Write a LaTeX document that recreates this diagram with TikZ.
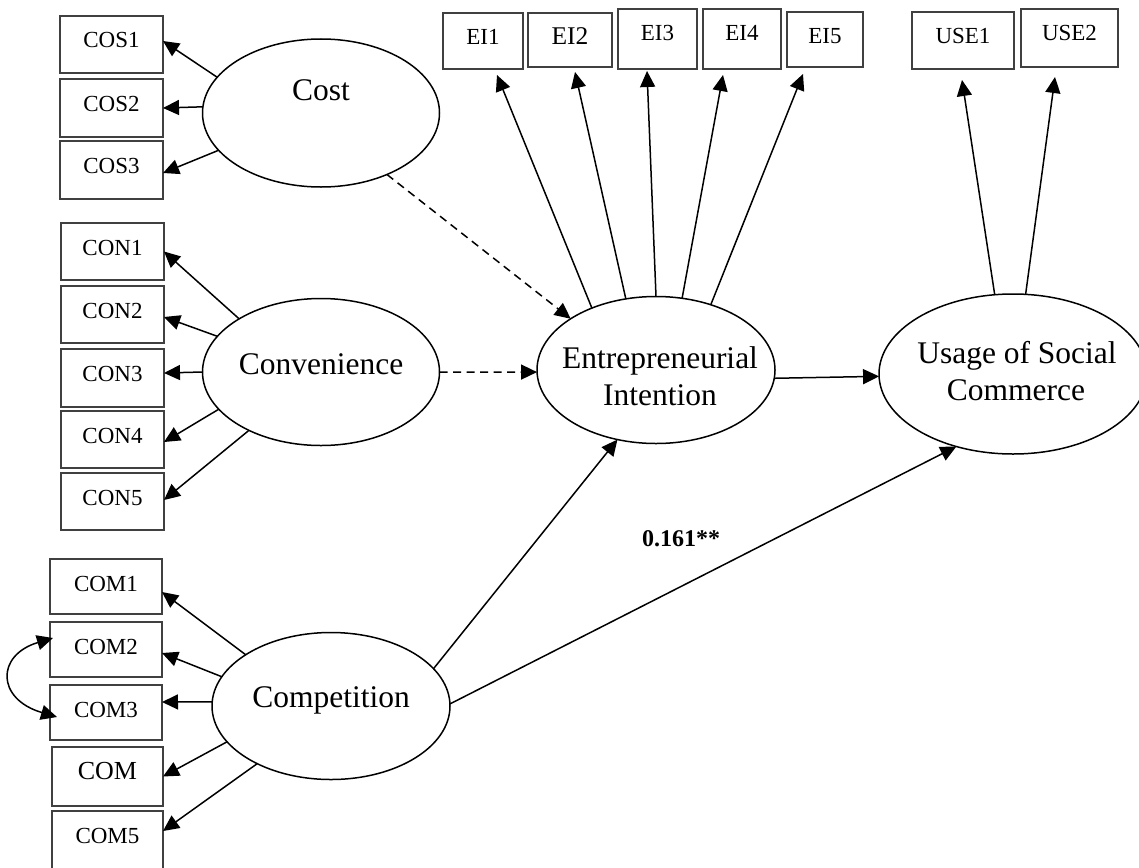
\documentclass[tikz,border=0pt]{standalone}
\usepackage{fontspec}
\setmainfont{Liberation Serif}
\usetikzlibrary{arrows.meta,shapes.geometric}

% zero-size label: #1 = twice the horizontal offset, #2 = baseline raise, #3 = text
\newcommand{\lbl}[3]{\raisebox{#2}[0pt][0pt]{\makebox[0pt]{\hspace*{#1}#3}}}

% indicator box: name, left, top, right, bottom, text
\newcommand{\indbox}[6]{%
  \pgfmathsetmacro\indW{#4-#2}%
  \pgfmathsetmacro\indH{#5-#3}%
  \pgfmathsetmacro\indD{#5-#3-32}%
  \node[ind, anchor=north west, minimum width=\indW pt, minimum height=\indH pt,
        text depth=\indD pt] (#1) at (#2,#3) {#6};}

\begin{document}
\begin{tikzpicture}[x=1pt,y=-1pt,
  ind/.style={draw=black!75, line width=1.2pt, rectangle, inner sep=0pt, outer sep=0pt,
              text height=32pt, font=\fontsize{23}{27}\selectfont},
  lat/.style={draw, line width=1.5pt, ellipse, inner sep=0pt, outer sep=0pt,
              font=\fontsize{31.5}{36}\selectfont},
  tip/.tip={Triangle[length=16pt,width=15pt]},
  arr/.style={line width=1.5pt, -tip},
  darr/.style={arr, dash pattern=on 8pt off 5.5pt},
  barr/.style={line width=1.5pt, tip-tip}]

\useasboundingbox (0,0) rectangle (1139,867);

% latent constructs
\node[lat, minimum width=237pt, minimum height=148pt] (cost) at (321,113) {\lbl{0pt}{13pt}{Cost}};
\node[lat, minimum width=237pt, minimum height=147pt] (conv) at (321,372) {\lbl{0pt}{-2pt}{Convenience}};
\node[lat, minimum width=238pt, minimum height=147pt] (comp) at (331,706) {\lbl{0pt}{-1pt}{Competition}};
\node[lat, minimum width=238pt, minimum height=147pt] (ei) at (656,370)
  {\lbl{8pt}{2pt}{Entrepreneurial}\lbl{8pt}{-35pt}{Intention}};
\node[lat, minimum width=268pt, minimum height=160pt] (use) at (1013,374)
  {\lbl{8pt}{11pt}{Usage of Social}\lbl{6pt}{-26pt}{Commerce}};

% indicators
\indbox{cos1}{60}{16}{163}{73}{COS1}
\indbox{cos2}{60}{79}{163}{137}{COS2}
\indbox{cos3}{60}{141}{163}{199}{COS3}
\indbox{con1}{61}{223}{164}{280}{CON1}
\indbox{con2}{61}{286}{164}{343}{CON2}
\indbox{con3}{61}{349}{164}{407}{CON3}
\indbox{con4}{61}{411}{164}{468}{CON4}
\indbox{con5}{61}{473}{164}{530}{CON5}
\indbox{com1}{50}{559}{162}{614}{COM1}
\indbox{com2}{50}{622}{162}{677}{COM2}
\indbox{com3}{50}{685}{162}{740}{COM3}
\indbox{com4}{52}{747}{163}{806}{\fontsize{26}{28}\selectfont COM}
\indbox{com5}{52}{811}{163}{870}{COM5}
\indbox{ei1}{443}{13}{523}{69}{EI1}
\indbox{ei2}{528}{13}{612}{67}{\fontsize{25.5}{28}\selectfont EI2}
\indbox{ei3}{618}{9}{697}{69}{EI3}
\indbox{ei4}{703}{9}{781}{69}{EI4}
\indbox{ei5}{787}{12}{863}{67}{EI5}
\indbox{use1}{912}{12}{1014}{69}{USE1}
\indbox{use2}{1021}{9}{1118}{67}{USE2}

% loadings
\draw[arr] (cost.161.6) -- ([yshift=3.5pt]cos1.east);
\draw[arr] (cost.177.6) -- (cos2.east);
\draw[arr] (cost.200.1) -- ([yshift=-3pt]cos3.east);

\draw[arr] (conv.147.7) -- (con1.east);
\draw[arr] (conv.161.7) -- ([yshift=-2.5pt]con2.east);
\draw[arr] (conv.180) -- ([yshift=5pt]con3.east);
\draw[arr] (conv.200.7) -- ([yshift=-2.5pt]con4.east);
\draw[arr] (conv.219.3) -- ([yshift=1.5pt]con5.east);

\draw[arr] (comp.149.9) -- ([yshift=-5.5pt]com1.east);
\draw[arr] (comp.165.1) -- ([yshift=-3.5pt]com2.east);
\draw[arr] (comp.178.1) -- ([yshift=10.5pt]com3.east);
\draw[arr] (comp.199.2) -- (com4.east);
\draw[arr] (comp.218.5) -- ([yshift=9.5pt]com5.east);

\draw[arr] (ei.136.3) -- ([xshift=14pt,yshift=-6pt]ei1.south);
\draw[arr] (ei.113.2) -- ([xshift=5pt,yshift=-5pt]ei2.south);
\draw[arr] (ei.90) -- ([xshift=-10.5pt,yshift=-2pt]ei3.south);
\draw[arr] (ei.70.9) -- ([xshift=-19pt,yshift=-6pt]ei4.south);
\draw[arr] (ei.50.6) -- ([xshift=-22pt,yshift=-7pt]ei5.south);

\draw[arr] (use.103.9) -- ([xshift=-1pt,yshift=-11pt]use1.south);
\draw[arr] (use.81.1) -- ([xshift=-14.5pt,yshift=-10pt]use2.south);

% error covariance
\draw[barr] ([xshift=3pt,yshift=11.5pt]com2.west) .. controls +(-57,17) and +(-61,-18) .. ([xshift=7pt,yshift=-4.5pt]com3.west);

% structural paths
\draw[darr] (cost.317.7) -- (ei.149.7);
\draw[darr] (conv.0) -- (ei.181);
\draw[arr] (ei.356.1) -- (use.181.7);
\draw[arr] (comp.20.1) -- (ei.241.5);
\draw[arr] (comp.1.4) -- (use.232.9);

\node[font=\bfseries\fontsize{24}{28}\selectfont, inner sep=0pt] (coef) at (681,539) {0.161**};

\end{tikzpicture}
\end{document}
